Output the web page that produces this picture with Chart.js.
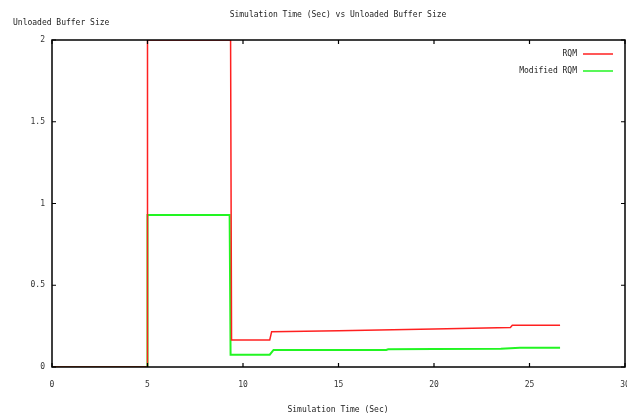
<!DOCTYPE html>
<html lang="en">
<head>
  <meta charset="UTF-8" />
  <title>Simulation Time (Sec) vs Unloaded Buffer Size</title>
  <script src="https://cdn.jsdelivr.net/npm/chart.js"></script>
  <style>
    html,body { margin:0; padding:0; background:#fff; overflow:hidden; }
    #box      { width:627px; height:419px; }
  </style>
</head>
<body>
<div id="box"><canvas id="buf"></canvas></div>

<script>
  /* ---------- data ---------- */
  const rqmX  = [0, 5, 5, 9.35, 9.4, 11.4, 11.5, 15, 20, 24.0, 24.1, 26.6];
  const rqmY  = [0, 0, 2, 2, 0.165, 0.165, 0.216, 0.222, 0.233, 0.242, 0.255, 0.255];
  const modX  = [0, 5, 5, 9.3, 9.35, 11.4, 11.6, 17.5, 17.6, 20, 23.5, 24.5, 26.6];
  const modY  = [0, 0, 0.93, 0.93, 0.075, 0.075, 0.104, 0.104, 0.108, 0.11, 0.112, 0.118, 0.118];
  const xTicks = [0, 5, 10, 15, 20, 25, 30];
  const yTicks = [0, 0.5, 1, 1.5, 2];

  const FONT = '"DejaVu Sans Mono", monospace';
  const pts  = (xs, ys) => xs.map((x,i) => ({x, y:ys[i]}));

  /* ---------- gnuplot-ish frame, inward ticks, titles, key ---------- */
  const frame = {
    id:'frame',
    afterDatasetsDraw(chart) {
      const {ctx, chartArea:a, scales:{x, y}} = chart;
      ctx.save();
      ctx.strokeStyle = '#000'; ctx.lineWidth = 1.5;
      ctx.strokeRect(a.left, a.top, a.right - a.left, a.bottom - a.top);

      ctx.lineWidth = 1.2;
      ctx.beginPath();
      xTicks.forEach(v => {
        const px = x.getPixelForValue(v);
        ctx.moveTo(px, a.bottom); ctx.lineTo(px, a.bottom - 4);
        ctx.moveTo(px, a.top);    ctx.lineTo(px, a.top + 4);
      });
      yTicks.forEach(v => {
        const py = y.getPixelForValue(v);
        ctx.moveTo(a.left, py);  ctx.lineTo(a.left + 4, py);
        ctx.moveTo(a.right, py); ctx.lineTo(a.right - 4, py);
      });
      ctx.stroke();

      ctx.fillStyle = '#222';
      ctx.font = '8px ' + FONT;
      ctx.textBaseline = 'middle';
      ctx.textAlign = 'center';
      ctx.fillText('Simulation Time (Sec) vs Unloaded Buffer Size', 338, 15);
      ctx.fillText('Simulation Time (Sec)', 338, 410);
      ctx.textAlign = 'left';
      ctx.fillText('Unloaded Buffer Size', 13, 23);

      // key
      chart.data.datasets.forEach((ds, i) => {
        const ky = 54 + i * 17;
        ctx.textAlign = 'right';
        ctx.fillStyle = '#222';
        ctx.fillText(ds.label, 577, ky);
        ctx.strokeStyle = ds.borderColor; ctx.lineWidth = 1.5;
        ctx.beginPath(); ctx.moveTo(583, ky); ctx.lineTo(613, ky); ctx.stroke();
      });
      ctx.restore();
    }
  };

  new Chart(document.getElementById('buf'), {
    type:'line',
    data:{ datasets:[
      { label:'RQM', data:pts(rqmX, rqmY), borderColor:'#ff2020', borderWidth:1.5 },
      { label:'Modified RQM', data:pts(modX, modY), borderColor:'#22f522', borderWidth:2 }
    ]},
    options:{
      responsive:true, maintainAspectRatio:false, animation:false,
      layout:{ padding:{ top:40, right:2, left:0, bottom:0 } },
      elements:{ point:{ radius:0 }, line:{ tension:0 } },
      plugins:{ legend:{ display:false }, tooltip:{ enabled:false } },
      scales:{
        x:{ type:'linear', min:0, max:30,
            afterBuildTicks: s => { s.ticks = xTicks.map(v => ({value:v})); },
            afterFit: s => { s.height = 52; s.paddingLeft = 0; s.paddingRight = 0; },
            grid:{ display:false, drawTicks:false }, border:{ display:false },
            ticks:{ padding:13, color:'#333', font:{ family:FONT, size:8 },
                    maxRotation:0, callback: v => String(v) } },
        y:{ min:0, max:2,
            afterBuildTicks: s => { s.ticks = yTicks.map(v => ({value:v})); },
            afterFit: s => { s.width = 52; s.paddingTop = 0; s.paddingBottom = 0; },
            grid:{ display:false, drawTicks:false }, border:{ display:false },
            ticks:{ padding:7, color:'#333', font:{ family:FONT, size:8 },
                    callback: v => String(v) } }
      }
    },
    plugins:[frame]
  });
</script>
</body>
</html>
